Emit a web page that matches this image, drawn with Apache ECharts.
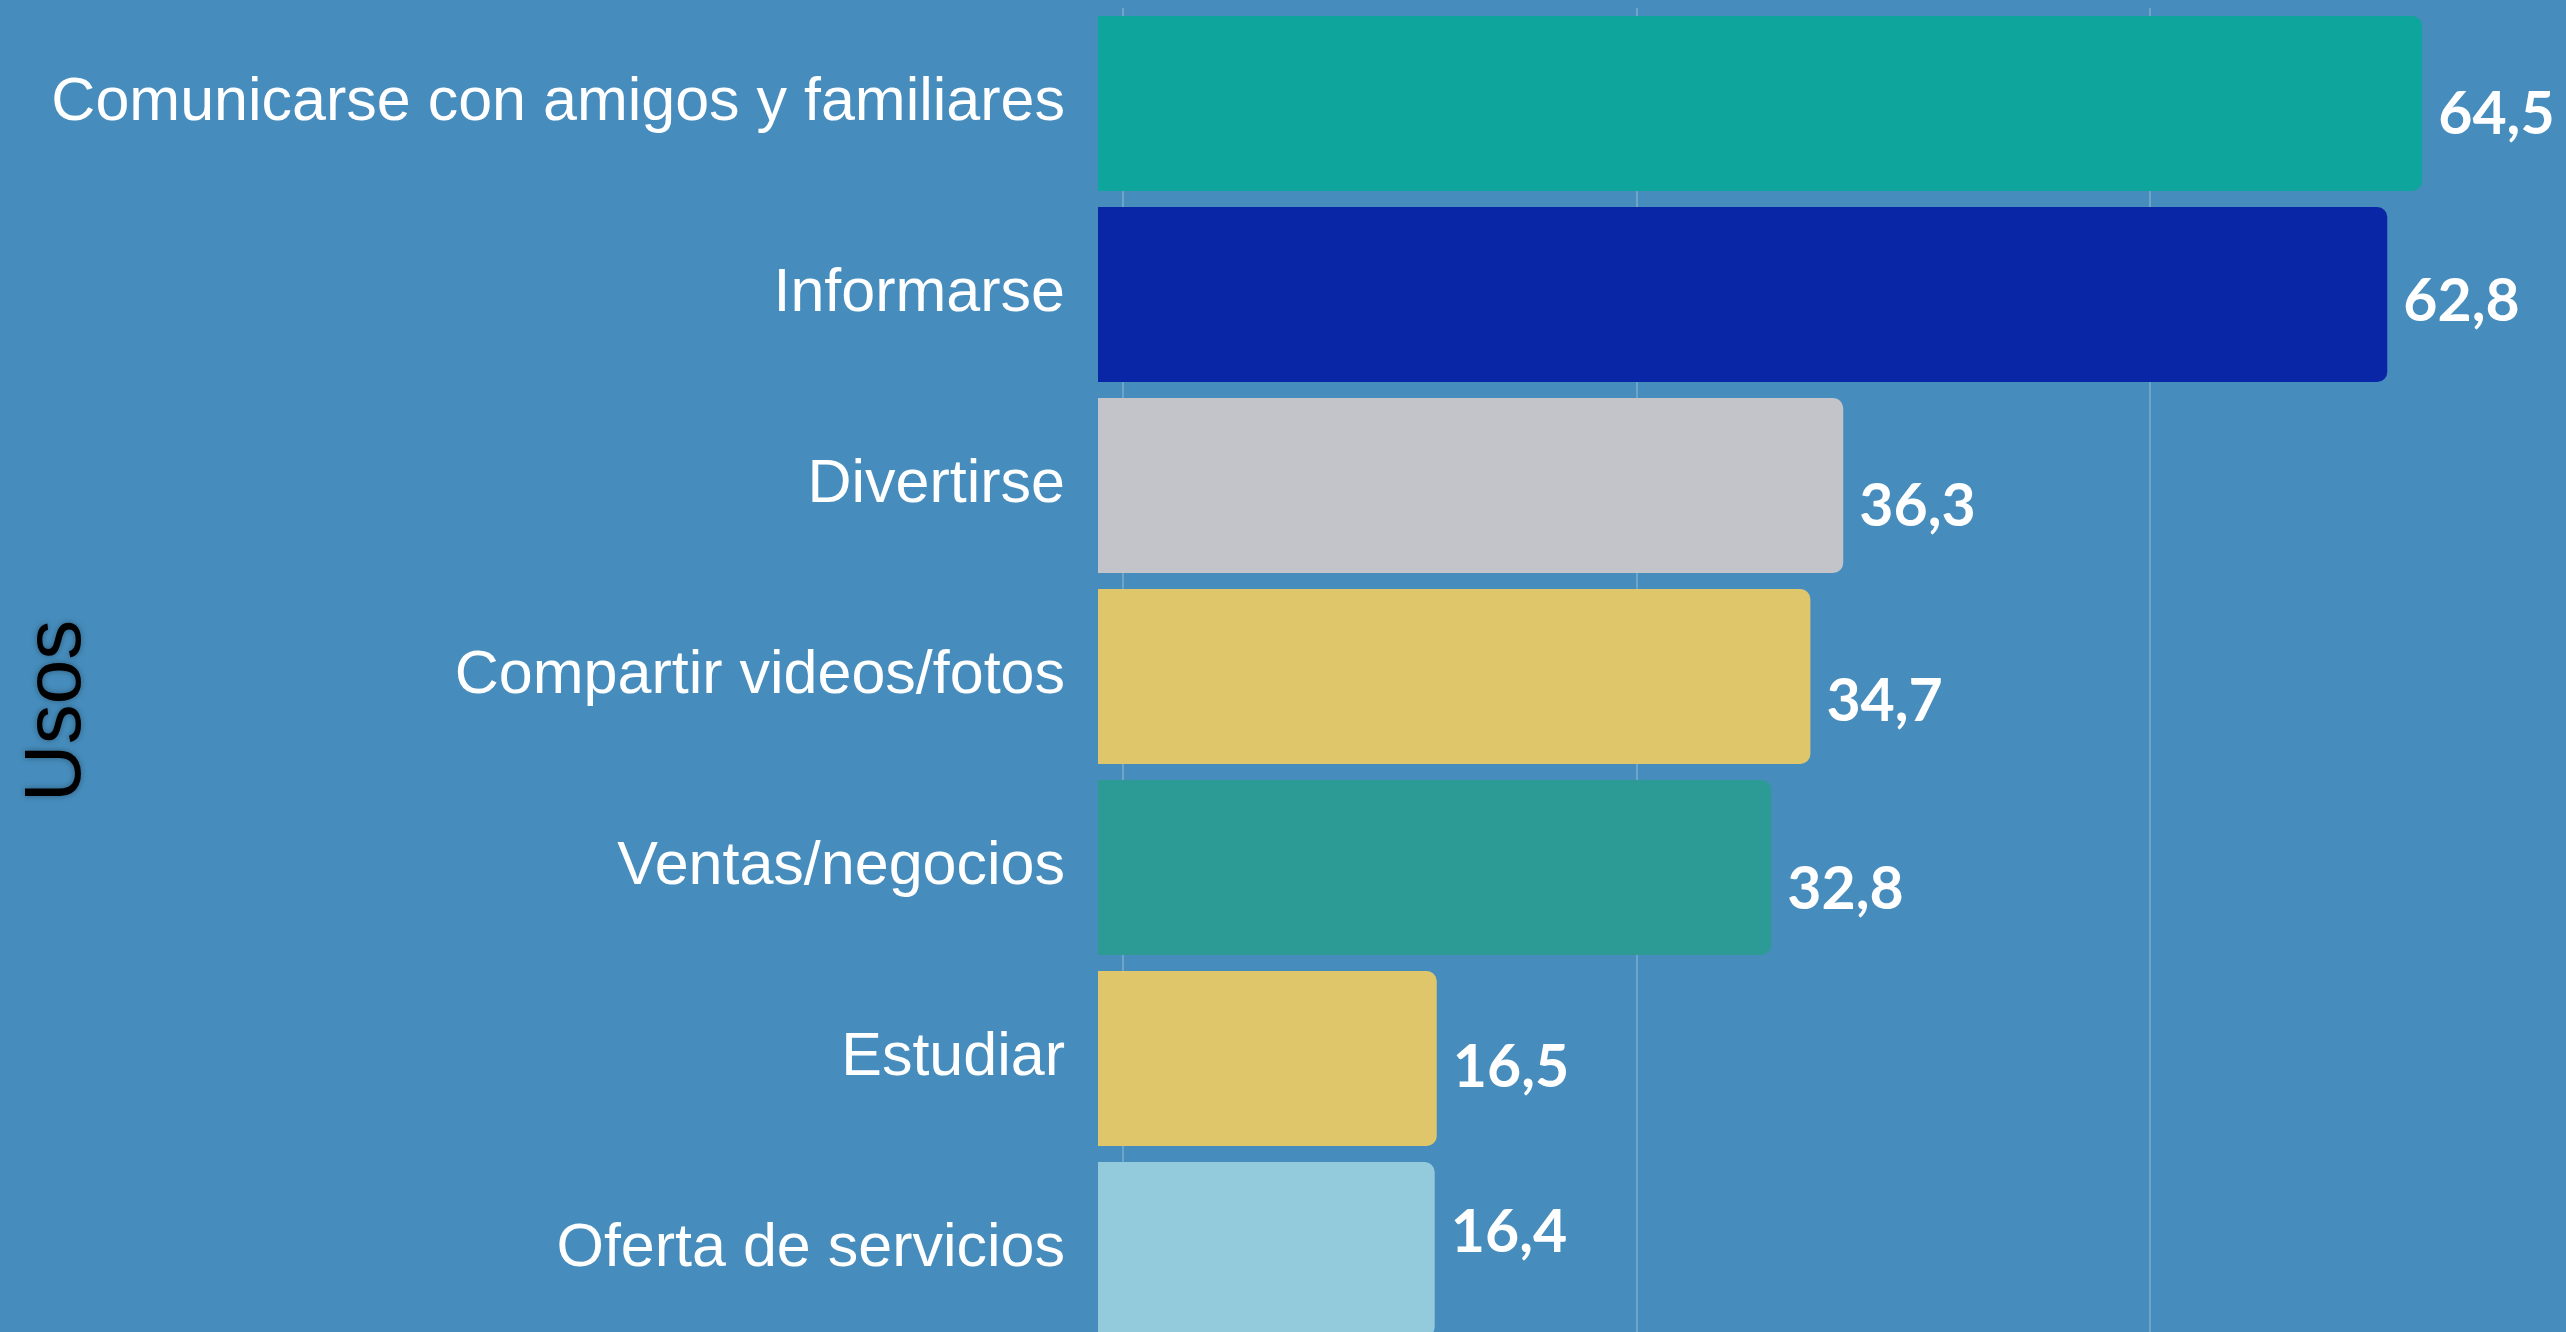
<!doctype html>
<html>
<head>
    <meta charset="utf-8">
    <title>Usos</title>
    <script src="https://cdn.jsdelivr.net/npm/echarts@6/dist/echarts.min.js"></script>
    <style>
        html, body { margin: 0; padding: 0; background-color: #468dbd; overflow: hidden; }
        /* the last bar runs past the bottom edge, as in the original */
        #chart { width: 2566px; height: 1345px; }
    </style>
</head>
<body>
<div id="chart"></div>
<script type="text/javascript">
    // datos
    var categories = ['Comunicarse con amigos y familiares', 'Informarse', 'Divertirse',
        'Compartir videos/fotos', 'Ventas/negocios', 'Estudiar', 'Oferta de servicios'];
    var values = [64.5, 62.8, 36.3, 34.7, 32.8, 16.5, 16.4];

    // estilo
    var barColors = ['#0ea59c', '#0826a6', '#c2c4c9', '#e0c66b', '#2c9b95', '#e0c66b', '#93cbdc'];
    var labelDy = [11, 7, 21, 25, 22, 9, -17];

    var data = values.map(function (v, i) {
        return {
            value: v,
            itemStyle: { color: barColors[i] },
            label: { offset: [0, labelDy[i]] }
        };
    });

    var chart = echarts.init(document.getElementById('chart'));

    var option = {
        backgroundColor: '#468dbd',
        animation: false,
        grid: [
            { left: 1098, top: 8, bottom: 0, right: 10.4, containLabel: false },
            // only for the vertical reference lines
            { left: 609.75, top: 8, bottom: 0, right: 5.9, containLabel: false }
        ],
        xAxis: [
            {
                gridIndex: 0, type: 'value', min: 0, max: 71,
                show: false,
                splitLine: { show: false }
            },
            {
                gridIndex: 1, type: 'value', min: -25, max: 70, interval: 25,
                axisLine: { show: false }, axisTick: { show: false }, axisLabel: { show: false },
                splitLine: { show: true, showMinLine: false, showMaxLine: false,
                    lineStyle: { color: 'rgba(255,255,255,0.28)', width: 1.5 } }
            }
        ],
        yAxis: [
            {
                gridIndex: 0,
                type: 'category',
                data: categories,
                inverse: true,
                axisLine: { show: false },
                axisTick: { show: false },
                axisLabel: {
                    color: '#ffffff',
                    fontFamily: 'Liberation Sans',
                    fontSize: 61,
                    margin: 33
                }
            },
            { gridIndex: 1, type: 'value', show: false, splitLine: { show: false } }
        ],
        graphic: [{
            type: 'text',
            x: 58, y: 711,
            rotation: Math.PI / 2,
            style: {
                text: 'Usos',
                fill: '#000000',
                font: '80px "Liberation Sans"',
                textAlign: 'center',
                textVerticalAlign: 'middle',
                textShadowColor: 'rgba(0,0,0,0.35)',
                textShadowBlur: 6
            }
        }],
        series: [{
            type: 'bar',
            xAxisIndex: 0,
            yAxisIndex: 0,
            data: data,
            barCategoryGap: '8.4%',
            itemStyle: { borderRadius: [0, 10, 10, 0] },
            label: {
                show: true,
                position: 'right',
                distance: 16,
                color: '#ffffff',
                fontFamily: 'Lato',
                fontWeight: 'bold',
                fontSize: 59,
                formatter: function (p) { return String(p.value).replace('.', ','); }
            }
        }]
    };

    chart.setOption(option);
</script>
</body>
</html>
